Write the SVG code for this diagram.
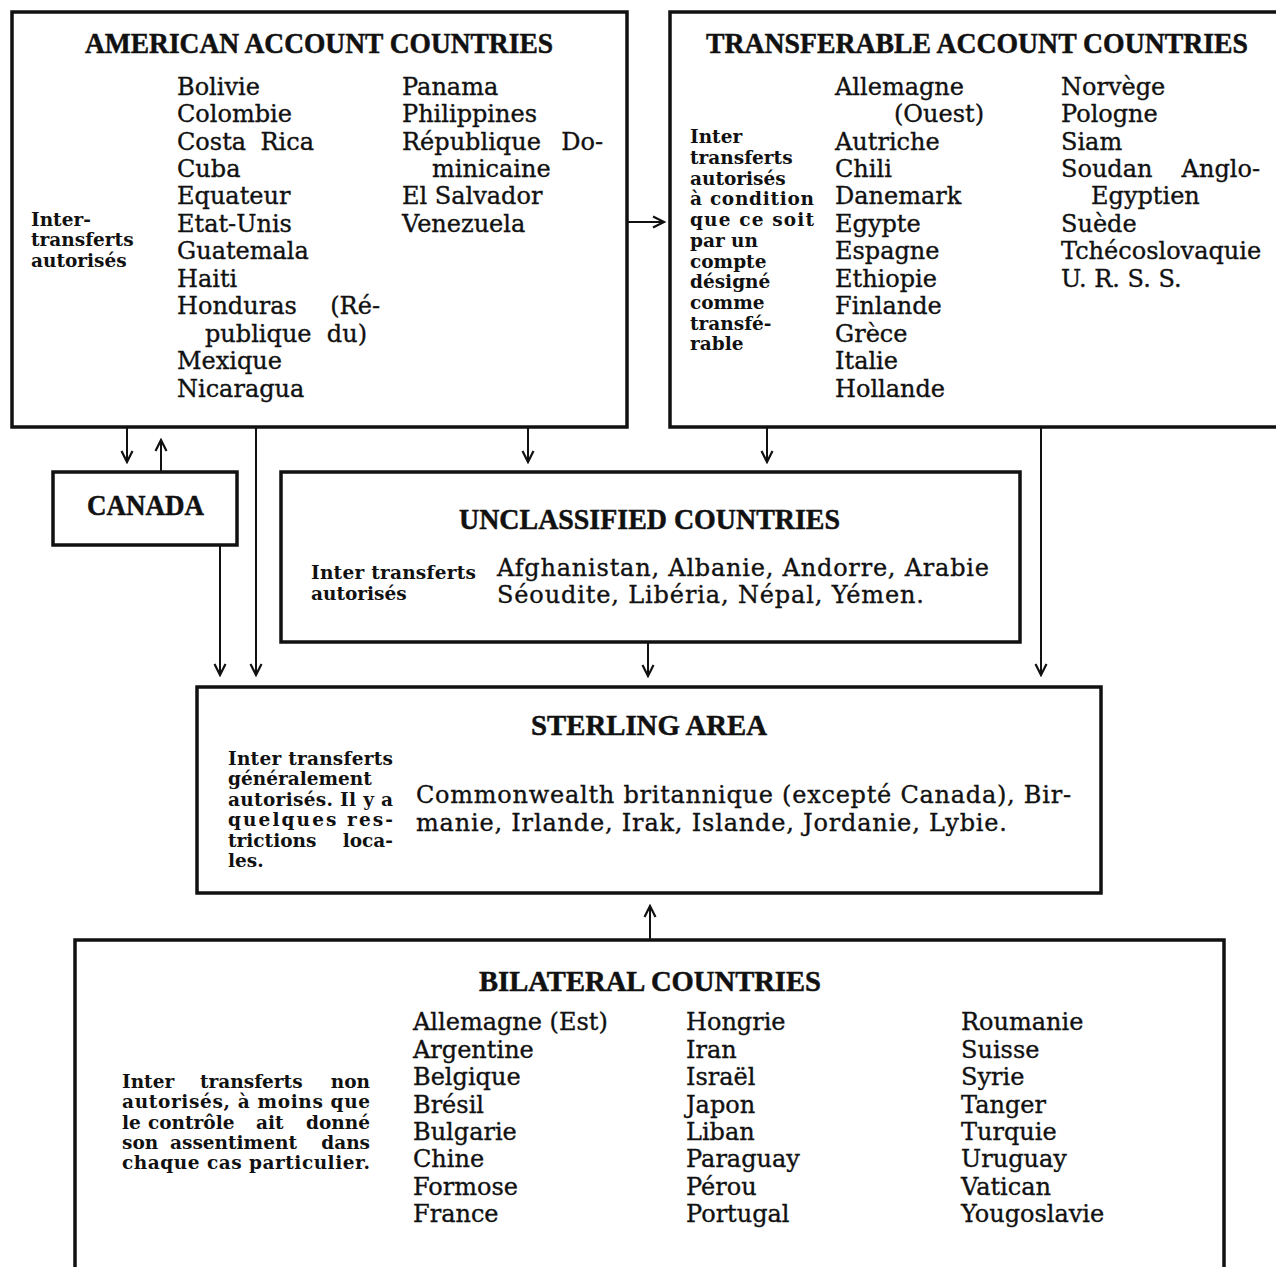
<svg xmlns="http://www.w3.org/2000/svg" width="1276" height="1267" viewBox="0 0 1276 1267">
<defs>
<marker id="arr" markerUnits="userSpaceOnUse" markerWidth="14" markerHeight="14" viewBox="0 0 14 14" refX="12" refY="7" orient="auto">
<path d="M1,1.5 L12,7 L1,12.5" fill="none" stroke="#111" stroke-width="2.2"/>
</marker>
<style>
.box{fill:#fff;stroke:#111;stroke-width:3.5}
.con{fill:none;stroke:#111;stroke-width:2}
.title{font-family:"Liberation Serif","Times New Roman",serif;font-weight:bold;font-size:29px;fill:#111;stroke:#111;stroke-width:0.5}
.body{font-family:"DejaVu Serif","Liberation Serif",serif;font-size:24px;fill:#111;stroke:#111;stroke-width:0.35}
.note{font-family:"DejaVu Serif","Liberation Serif",serif;font-weight:bold;font-size:18.5px;fill:#111}
.e{text-anchor:end}
</style>
</defs>
<rect width="1276" height="1267" fill="#fff"/>

<g id="connectors">
<line class="con" x1="627" y1="222" x2="664" y2="222" marker-end="url(#arr)"/>
<line class="con" x1="127" y1="428" x2="127" y2="462" marker-end="url(#arr)"/>
<line class="con" x1="161" y1="471" x2="161" y2="440" marker-end="url(#arr)"/>
<line class="con" x1="220" y1="545" x2="220" y2="675" marker-end="url(#arr)"/>
<line class="con" x1="256" y1="428" x2="256" y2="675" marker-end="url(#arr)"/>
<line class="con" x1="528" y1="428" x2="528" y2="462" marker-end="url(#arr)"/>
<line class="con" x1="767" y1="428" x2="767" y2="462" marker-end="url(#arr)"/>
<line class="con" x1="1041" y1="428" x2="1041" y2="675" marker-end="url(#arr)"/>
<line class="con" x1="648" y1="643" x2="648" y2="676" marker-end="url(#arr)"/>
<line class="con" x1="650" y1="939" x2="650" y2="906" marker-end="url(#arr)"/>
</g>

<g id="american">
<rect class="box" x="12" y="12" width="615" height="415"/>
<text class="title" x="85" y="53" textLength="468" lengthAdjust="spacingAndGlyphs">AMERICAN ACCOUNT COUNTRIES</text>
<text class="note" x="31" y="226">Inter-</text>
<text class="note" x="31" y="246">transferts</text>
<text class="note" x="31" y="267">autorisés</text>
<g class="body">
<text x="177" y="95">Bolivie</text>
<text x="177" y="122">Colombie</text>
<text x="177" y="150">Costa</text><text class="e" x="314" y="150">Rica</text>
<text x="177" y="177">Cuba</text>
<text x="177" y="204">Equateur</text>
<text x="177" y="232">Etat-Unis</text>
<text x="177" y="259">Guatemala</text>
<text x="177" y="287">Haiti</text>
<text x="177" y="314">Honduras</text><text class="e" x="380" y="314">(Ré-</text>
<text x="205" y="342">publique</text><text class="e" x="367" y="342">du)</text>
<text x="177" y="369">Mexique</text>
<text x="177" y="397">Nicaragua</text>
<text x="402" y="95">Panama</text>
<text x="402" y="122">Philippines</text>
<text x="402" y="150">République</text><text class="e" x="603" y="150">Do-</text>
<text x="432" y="177">minicaine</text>
<text x="402" y="204">El Salvador</text>
<text x="402" y="232">Venezuela</text>
</g>
</g>

<g id="transferable">
<rect class="box" x="670" y="12" width="620" height="415"/>
<text class="title" x="706" y="53" textLength="542" lengthAdjust="spacingAndGlyphs">TRANSFERABLE ACCOUNT COUNTRIES</text>
<g class="note">
<text x="690" y="143">Inter</text>
<text x="690" y="164">transferts</text>
<text x="690" y="185">autorisés</text>
<text x="690" y="205" textLength="124" lengthAdjust="spacing">à condition</text>
<text x="690" y="226" textLength="124" lengthAdjust="spacing">que ce soit</text>
<text x="690" y="247">par un</text>
<text x="690" y="268">compte</text>
<text x="690" y="288">désigné</text>
<text x="690" y="309">comme</text>
<text x="690" y="330">transfé-</text>
<text x="690" y="350">rable</text>
</g>
<g class="body">
<text x="835" y="95">Allemagne</text>
<text x="894" y="122">(Ouest)</text>
<text x="835" y="150">Autriche</text>
<text x="835" y="177">Chili</text>
<text x="835" y="204">Danemark</text>
<text x="835" y="232">Egypte</text>
<text x="835" y="259">Espagne</text>
<text x="835" y="287">Ethiopie</text>
<text x="835" y="314">Finlande</text>
<text x="835" y="342">Grèce</text>
<text x="835" y="369">Italie</text>
<text x="835" y="397">Hollande</text>
<text x="1061" y="95">Norvège</text>
<text x="1061" y="122">Pologne</text>
<text x="1061" y="150">Siam</text>
<text x="1061" y="177">Soudan</text><text class="e" x="1260" y="177">Anglo-</text>
<text x="1091" y="204">Egyptien</text>
<text x="1061" y="232">Suède</text>
<text x="1061" y="259">Tchécoslovaquie</text>
<text x="1061" y="287">U. R. S. S.</text>
</g>
</g>

<g id="canada">
<rect class="box" x="53" y="472" width="184" height="73"/>
<text class="title" x="87" y="515" textLength="117" lengthAdjust="spacingAndGlyphs">CANADA</text>
</g>

<g id="unclassified">
<rect class="box" x="281" y="472" width="739" height="170"/>
<text class="title" x="459" y="529" textLength="381" lengthAdjust="spacingAndGlyphs">UNCLASSIFIED  COUNTRIES</text>
<text class="note" x="311" y="579" textLength="165" lengthAdjust="spacing">Inter transferts</text>
<text class="note" x="311" y="600">autorisés</text>
<text class="body" x="497" y="576" textLength="492" lengthAdjust="spacing">Afghanistan, Albanie, Andorre, Arabie</text>
<text class="body" x="497" y="603" textLength="427" lengthAdjust="spacing">Séoudite, Libéria, Népal, Yémen.</text>
</g>

<g id="sterling">
<rect class="box" x="197" y="687" width="904" height="206"/>
<text class="title" x="531" y="735" textLength="236" lengthAdjust="spacingAndGlyphs">STERLING AREA</text>
<g class="note">
<text x="228" y="765" textLength="165" lengthAdjust="spacing">Inter transferts</text>
<text x="228" y="785">généralement</text>
<text x="228" y="806" textLength="165" lengthAdjust="spacing">autorisés. Il y a</text>
<text x="228" y="826" textLength="165" lengthAdjust="spacing">quelques res-</text>
<text x="228" y="847">trictions</text><text class="e" x="393" y="847">loca-</text>
<text x="228" y="867">les.</text>
</g>
<text class="body" x="416" y="803" textLength="655" lengthAdjust="spacing">Commonwealth britannique (excepté Canada), Bir-</text>
<text class="body" x="416" y="831" textLength="591" lengthAdjust="spacing">manie, Irlande, Irak, Islande, Jordanie, Lybie.</text>
</g>

<g id="bilateral">
<path class="box" d="M75,1270 L75,940 L1224,940 L1224,1270"/>
<text class="title" x="479" y="991" textLength="342" lengthAdjust="spacingAndGlyphs">BILATERAL  COUNTRIES</text>
<g class="note">
<text x="122" y="1088">Inter</text><text x="200" y="1088">transferts</text><text class="e" x="370" y="1088">non</text>
<text x="122" y="1108" textLength="248" lengthAdjust="spacing">autorisés, à moins que</text>
<text x="122" y="1129">le</text><text x="148" y="1129">contrôle</text><text x="256" y="1129">ait</text><text class="e" x="370" y="1129">donné</text>
<text x="122" y="1149">son</text><text x="170" y="1149">assentiment</text><text class="e" x="370" y="1149">dans</text>
<text x="122" y="1169" textLength="248" lengthAdjust="spacing">chaque cas particulier.</text>
</g>
<g class="body">
<text x="413" y="1030">Allemagne (Est)</text>
<text x="413" y="1058">Argentine</text>
<text x="413" y="1085">Belgique</text>
<text x="413" y="1113">Brésil</text>
<text x="413" y="1140">Bulgarie</text>
<text x="413" y="1167">Chine</text>
<text x="413" y="1195">Formose</text>
<text x="413" y="1222">France</text>
<text x="686" y="1030">Hongrie</text>
<text x="686" y="1058">Iran</text>
<text x="686" y="1085">Israël</text>
<text x="686" y="1113">Japon</text>
<text x="686" y="1140">Liban</text>
<text x="686" y="1167">Paraguay</text>
<text x="686" y="1195">Pérou</text>
<text x="686" y="1222">Portugal</text>
<text x="961" y="1030">Roumanie</text>
<text x="961" y="1058">Suisse</text>
<text x="961" y="1085">Syrie</text>
<text x="961" y="1113">Tanger</text>
<text x="961" y="1140">Turquie</text>
<text x="961" y="1167">Uruguay</text>
<text x="961" y="1195">Vatican</text>
<text x="961" y="1222">Yougoslavie</text>
</g>
</g>
</svg>
